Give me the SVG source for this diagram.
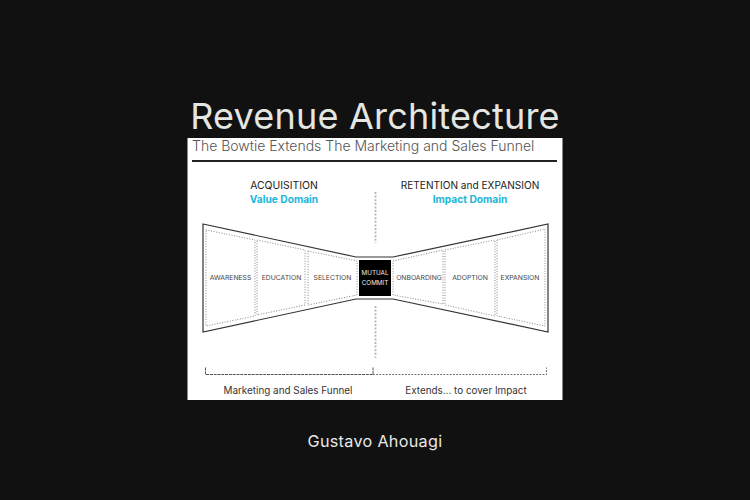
<svg xmlns="http://www.w3.org/2000/svg" width="750" height="500" viewBox="0 0 750 500">
<style>
text{font-family:"Inter","Liberation Sans",sans-serif;text-anchor:middle}
.h{font-size:10.4px;fill:#222}
.d{font-size:10.2px;font-weight:700;fill:#22b5d8}
.s{font-size:6.8px;fill:#444}
.b{font-size:9.9px;fill:#333}
.cell{fill:#fff;stroke:#888;stroke-width:1;stroke-dasharray:1 1.6}
.out{fill:none;stroke:#333;stroke-width:1.2}
.dash{fill:none;stroke:#b5b5b5;stroke-width:1.800;stroke-dasharray:2 1.6}
</style>
<rect width="750" height="500" fill="#111"/>
<text x="375" y="129" font-size="36" font-weight="400" letter-spacing=".2" fill="#e4e6e2">Revenue Architecture</text>
<rect x="187.500" y="138" width="375" height="262" fill="#fff"/>
<text x="192" y="151" font-size="14" font-weight="300" fill="#555" style="text-anchor:start">The Bowtie Extends The Marketing and Sales Funnel</text>
<rect x="192" y="160" width="365" height="2" fill="#222"/>
<text class="h" x="284" y="189">ACQUISITION</text>
<text class="d" x="284" y="203">Value Domain</text>
<text class="h" x="470" y="189" style="font-size:10.1px">RETENTION and EXPANSION</text>
<text class="d" x="470" y="203">Impact Domain</text>
<g id="connectors">
<path class="dash" d="M375.500 192V243M375.500 306V358"/>
<path class="out" d="M203 224L356 257H393L548 224V332L393 299H356L203 332Z"/>
<path d="M205.500 367.500V374.500H373V367.500" fill="none" stroke="#555" stroke-width="1" stroke-dasharray="3 .8"/>
<path d="M373 374.500H546.500V367.500" fill="none" stroke="#666" stroke-width="1" stroke-dasharray="1.800 1.400"/>
</g>
<g id="awareness"><path class="cell" d="M206 230L255 240V316L206 326Z"/><text class="s" x="230.500" y="280">AWARENESS</text></g>
<g id="education"><path class="cell" d="M257 240L305 250V305L257 315Z"/><text class="s" x="281.500" y="280">EDUCATION</text></g>
<g id="selection"><path class="cell" d="M308 251L357 261V295L308 305Z"/><text class="s" x="332.500" y="280">SELECTION</text></g>
<g id="mutual-commit"><rect x="359" y="260" width="32" height="36" fill="#000"/><text x="375" y="275" font-size="6.300" fill="#eee">MUTUAL</text><text x="375" y="285" font-size="6.300" fill="#eee">COMMIT</text></g>
<g id="onboarding"><path class="cell" d="M393 261L443 250V304L393 295Z"/><text class="s" x="419" y="280">ONBOARDING</text></g>
<g id="adoption"><path class="cell" d="M445 250L495 240V316L445 305Z"/><text class="s" x="470" y="280">ADOPTION</text></g>
<g id="expansion"><path class="cell" d="M497 240L545 229V326L497 316Z"/><text class="s" x="520" y="280">EXPANSION</text></g>
<text class="b" x="288" y="394">Marketing and Sales Funnel</text>
<text class="b" x="466" y="394">Extends... to cover Impact</text>
<text x="375" y="447" font-size="16.200" fill="#e8e8e8" letter-spacing=".3">Gustavo Ahouagi</text>
</svg>
